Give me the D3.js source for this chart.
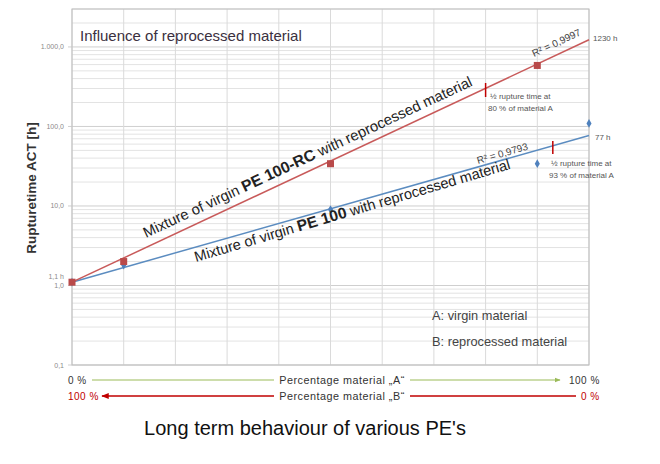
<!DOCTYPE html>
<html>
<head>
<meta charset="utf-8">
<script src="https://cdn.jsdelivr.net/npm/d3@7"></script>
<style>
  body { margin: 0; background: #fff; }
  text { font-family: "Liberation Sans", Arial, sans-serif; }
</style>
</head>
<body>
<svg id="chart" width="660" height="464"></svg>
<script>
// percentage of virgin material A
const redX = [0, 10, 50, 90];
const redY = [1.1, 2.0, 34, 585];
const blueX = [0, 10, 50, 90, 100];
const blueY = [1.1, 1.8, 9.0, 34, 109];
// exponential trendlines (start / end values)
const redTrend = [[0, 1.1], [100, 1230]];
const blueTrend = [[0, 1.1], [100, 77]];
const yTicks = [0.1, 1, 10, 100, 1000];
const yTickLabels = ["0,1", "1,0", "10,0", "100,0", "1.000,0"];
const xTicks = d3.range(0, 101, 10);

let svg = d3.select('#chart');
let margin = {top: 9, right: 71, bottom: 99, left: 72},
    width = +svg.attr('width') - margin.left - margin.right,
    height = +svg.attr('height') - margin.top - margin.bottom;

let x = d3.scaleLinear().domain([0, 100]).range([margin.left, margin.left + width]);
let y = d3.scaleLog().domain([0.1, 3000]).range([margin.top + height, margin.top]);

let g = svg.append('g');

// minor log gridlines
let minor = [];
[0.1, 1, 10, 100, 1000].forEach(function(d) {
    for (let k = 2; k <= 9; k++) {
        if (d * k <= 3000) minor.push(d * k);
    }
});
g.selectAll('.hminor').data(minor).enter().append('line')
    .attr('x1', x(0)).attr('x2', x(100))
    .attr('y1', d => y(d)).attr('y2', d => y(d))
    .attr('stroke', '#e3e3e3').attr('stroke-width', 1);

g.selectAll('.hmajor').data(yTicks).enter().append('line')
    .attr('x1', x(0) - 4).attr('x2', x(100))
    .attr('y1', d => y(d)).attr('y2', d => y(d))
    .attr('stroke', '#cfcfcf').attr('stroke-width', 1);

g.selectAll('.vgrid').data(xTicks).enter().append('line')
    .attr('x1', d => x(d)).attr('x2', d => x(d))
    .attr('y1', y(3000)).attr('y2', y(0.1))
    .attr('stroke', '#dadada').attr('stroke-width', 1);

// frame
g.append('rect')
    .attr('x', x(0)).attr('y', y(3000))
    .attr('width', width).attr('height', height)
    .attr('fill', 'none').attr('stroke', '#bdbdbd');

// y tick labels
g.selectAll('.ylab').data(yTicks).enter().append('text')
    .attr('x', x(0) - 8).attr('y', d => y(d) + 2.5)
    .attr('text-anchor', 'end')
    .attr('font-size', 7).attr('fill', '#8a8a8a')
    .text((d, i) => yTickLabels[i]);

g.append('text')
    .attr('x', x(0) - 8).attr('y', y(1.1) - 3)
    .attr('text-anchor', 'end')
    .attr('font-size', 7).attr('fill', '#8a8a8a')
    .text('1,1 h');

// y title
g.append('text')
    .attr('transform', 'translate(36,188) rotate(-90)')
    .attr('text-anchor', 'middle')
    .attr('font-size', 13.5).attr('font-weight', 'bold').attr('fill', '#333')
    .text('Rupturetime ACT [h]');

// plot title inside
g.append('text')
    .attr('x', 80).attr('y', 41)
    .attr('font-size', 15).attr('fill', '#3b3040')
    .text('Influence of reprocessed material');

let line = d3.line().x(d => x(d[0])).y(d => y(d[1]));

g.append('path').datum(blueTrend).attr('d', line)
    .attr('fill', 'none').attr('stroke', '#5b8cc0').attr('stroke-width', 1.5);
g.append('path').datum(redTrend).attr('d', line)
    .attr('fill', 'none').attr('stroke', '#c85a5a').attr('stroke-width', 1.5);

// blue diamonds
g.selectAll('.bpt').data(blueX).enter().append('path')
    .attr('d', d3.symbol().type(d3.symbolDiamond).size(22))
    .attr('transform', (d, i) => 'translate(' + x(d) + ',' + y(blueY[i]) + ')')
    .attr('fill', '#4f81bd');

// red squares
g.selectAll('.rpt').data(redX).enter().append('rect')
    .attr('x', d => x(d) - 3.5).attr('y', (d, i) => y(redY[i]) - 3.5)
    .attr('width', 7).attr('height', 7)
    .attr('fill', '#b94a4a');

// half rupture time markers
g.append('line')
    .attr('x1', x(80)).attr('x2', x(80))
    .attr('y1', 83).attr('y2', 97)
    .attr('stroke', '#c00000').attr('stroke-width', 1.5);
g.append('line')
    .attr('x1', x(93)).attr('x2', x(93))
    .attr('y1', 141).attr('y2', 154)
    .attr('stroke', '#c00000').attr('stroke-width', 1.5);

function smallText(tx, ty, s) {
    g.append('text').attr('x', tx).attr('y', ty)
        .attr('font-size', 8).attr('fill', '#555').text(s);
}
smallText(490, 99, '½ rupture time at');
smallText(488, 111, '80 % of material A');
smallText(551, 166, '½ rupture time at');
smallText(549, 178, '93 % of material A');
smallText(593, 41, '1230 h');
smallText(595, 140, '77 h');

// R² labels
g.append('text')
    .attr('transform', 'translate(534,57) rotate(-25)')
    .attr('font-size', 10).attr('fill', '#444')
    .text('R² = 0,9997');
g.append('text')
    .attr('transform', 'translate(478,164) rotate(-16)')
    .attr('font-size', 10).attr('fill', '#444')
    .text('R² = 0,9793');

// series labels
let t1 = g.append('text')
    .attr('transform', 'translate(146,238) rotate(-25)')
    .attr('font-size', 14.8).attr('fill', '#222');
t1.append('tspan').text('Mixture of virgin ');
t1.append('tspan').attr('font-weight', 'bold').attr('font-size', 15.8).text('PE 100-RC');
t1.append('tspan').text(' with reprocessed material');

let t2 = g.append('text')
    .attr('transform', 'translate(196,262) rotate(-16.5)')
    .attr('font-size', 14.6).attr('fill', '#222');
t2.append('tspan').text('Mixture of virgin ');
t2.append('tspan').attr('font-weight', 'bold').attr('font-size', 15.6).text('PE 100');
t2.append('tspan').text(' with reprocessed material');

// A / B legend
g.append('text').attr('x', 432).attr('y', 320)
    .attr('font-size', 12.8).attr('fill', '#444').text('A: virgin material');
g.append('text').attr('x', 432).attr('y', 346)
    .attr('font-size', 12.8).attr('fill', '#444').text('B: reprocessed material');

// bottom percentage arrows
let defs = svg.append('defs');
defs.append('marker').attr('id', 'arrG')
    .attr('viewBox', '0 0 10 10').attr('refX', 9).attr('refY', 5)
    .attr('markerWidth', 6).attr('markerHeight', 6).attr('orient', 'auto')
    .append('path').attr('d', 'M0,1 L10,5 L0,9 Z').attr('fill', '#9bbb59');
defs.append('marker').attr('id', 'arrR')
    .attr('viewBox', '0 0 10 10').attr('refX', 9).attr('refY', 5)
    .attr('markerWidth', 5).attr('markerHeight', 5).attr('orient', 'auto')
    .append('path').attr('d', 'M0,1 L10,5 L0,9 Z').attr('fill', '#c00000');

function pctText(tx, ty, s, col, anchor, fs) {
    g.append('text').attr('x', tx).attr('y', ty)
        .attr('text-anchor', anchor || 'start')
        .attr('font-size', fs || 10).attr('letter-spacing', 0.5).attr('fill', col).text(s);
}
let yA = 380, yB = 396;
pctText(68, yA + 3.5, '0 %', '#333');
g.append('line').attr('x1', 92).attr('x2', 274).attr('y1', yA).attr('y2', yA)
    .attr('stroke', '#9bbb59').attr('stroke-width', 1);
pctText(342, yA + 3.5, 'Percentage material „A“', '#333', 'middle', 10.8);
g.append('line').attr('x1', 410).attr('x2', 560).attr('y1', yA).attr('y2', yA)
    .attr('stroke', '#9bbb59').attr('stroke-width', 1).attr('marker-end', 'url(#arrG)');
pctText(569, yA + 3.5, '100 %', '#333');

pctText(68, yB + 3.5, '100 %', '#c00000');
g.append('line').attr('x1', 274).attr('x2', 102).attr('y1', yB).attr('y2', yB)
    .attr('stroke', '#c00000').attr('stroke-width', 1.5).attr('marker-end', 'url(#arrR)');
pctText(342, yB + 3.5, 'Percentage material „B“', '#333', 'middle', 10.8);
g.append('line').attr('x1', 410).attr('x2', 576).attr('y1', yB).attr('y2', yB)
    .attr('stroke', '#c00000').attr('stroke-width', 1.5);
pctText(581, yB + 3.5, '0 %', '#c00000');

// main title
g.append('text').attr('x', 305).attr('y', 435)
    .attr('text-anchor', 'middle')
    .attr('font-size', 20).attr('fill', '#111')
    .text("Long term behaviour of various PE's");
</script>
</body>
</html>
